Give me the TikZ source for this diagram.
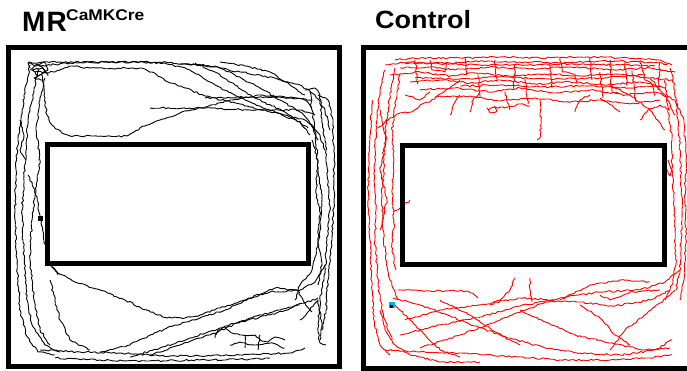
\documentclass[tikz,border=0pt]{standalone}
\usepackage{fontspec}
\setmainfont{Liberation Sans}
\usetikzlibrary{decorations.pathmorphing}
\definecolor{trackred}{RGB}{255,0,0}
\tikzset{
  frame/.style={draw=black, line width=5pt},
  arena/.style={draw=black, line width=5pt},
  trk/.style={decorate, decoration={random steps, segment length=2.6pt, amplitude=0.9pt},
              line width=0.9pt, line join=round},
  mrk/.style={trk, draw=black},
  ctl/.style={trk, draw=trackred},
}
\begin{document}
\begin{tikzpicture}[x=1pt,y=-1pt]
\pgfmathsetseed{11}
\useasboundingbox (0,0) rectangle (687,371);
% titles
\node[anchor=base west, inner sep=0] (t1) at (22,32)
  {\fontsize{28}{30}\selectfont\bfseries M\kern1pt R};
\node[anchor=base west, inner sep=0, xscale=1.12] (t1s) at (66,21)
  {\fontsize{15.5}{17}\selectfont\bfseries CaMKCre};
\node[anchor=base west, inner sep=0, xscale=1.08] (t2) at (375,29)
  {\fontsize{25}{27}\selectfont\bfseries Control};

% ================= left panel (black tracks) =================
\draw[mrk] (30,68) -- (28,63) -- (60,62) -- (110,62) -- (166,62) -- (185,64) -- (215,66) -- (235,75) -- (260,88) -- (280,100) -- (300,112) -- (312,125) -- (318,140);
\draw[mrk] (40,66) -- (70,63) -- (120,62) -- (165,63) -- (190,70) -- (215,85) -- (245,100) -- (275,112) -- (300,122) -- (310,135);
\draw[mrk] (35,72) -- (55,72) -- (70,66) -- (90,68) -- (140,68) -- (152,72) -- (168,82) -- (185,88) -- (205,96) -- (240,104) -- (270,112) -- (305,120) -- (320,135) -- (325,150);
\draw[mrk] (42,75) -- (44,95) -- (47,115) -- (52,125) -- (62,133) -- (70,136) -- (127,136) -- (140,128) -- (160,120) -- (180,113) -- (205,107) -- (230,100) -- (260,95) -- (290,97) -- (305,100) -- (312,108);
\draw[mrk] (180,64) -- (200,65) -- (220,68) -- (240,72) -- (260,75) -- (280,80) -- (300,85) -- (315,95) -- (325,110) -- (330,130);
\draw[mrk] (205,98) -- (250,97) -- (290,98) -- (312,100);
\draw[mrk] (150,108) -- (200,108) -- (250,110) -- (300,110) -- (315,115);
\draw[mrk] (220,62) -- (245,66) -- (270,72) -- (290,85) -- (305,95);
\draw[mrk] (195,63) -- (215,72) -- (235,85) -- (255,98) -- (285,112) -- (308,128);
\draw[mrk] (28,62) -- (36,66) -- (44,62) -- (48,70) -- (38,76) -- (32,70) -- (42,68) -- (48,76);
\draw[mrk] (30,70) -- (38,64) -- (46,72) -- (34,78) -- (44,80);
% right side
\draw[mrk] (305,90) -- (315,88) -- (320,95) -- (322,120) -- (326,150) -- (328,180) -- (330,210) -- (327,240) -- (325,270) -- (320,300) -- (318,330) -- (320,343) -- (326,345);
\draw[mrk] (310,92) -- (312,110) -- (316,140) -- (318,170) -- (322,200) -- (320,230) -- (316,255) -- (312,270) -- (300,285) -- (295,300);
\draw[mrk] (318,95) -- (328,100) -- (333,120) -- (334,160) -- (334,200) -- (332,240) -- (328,280) -- (326,310) -- (322,330);
\draw[mrk] (312,140) -- (318,160) -- (316,190) -- (320,215) -- (318,240) -- (322,262) -- (318,285);
% left side
\draw[mrk] (30,65) -- (26,85) -- (22,110) -- (18,140) -- (16,170) -- (15,210) -- (16,250) -- (18,280) -- (20,310) -- (26,335) -- (38,352) -- (55,355);
\draw[mrk] (38,68) -- (34,90) -- (28,120) -- (26,150) -- (24,180) -- (22,210) -- (23,240) -- (25,270) -- (27,300) -- (32,325) -- (45,345) -- (60,352);
\draw[mrk] (45,78) -- (40,100) -- (36,130) -- (40,160) -- (36,190) -- (32,220) -- (30,260) -- (34,300) -- (40,330) -- (50,345);
\draw[mrk] (28,175) -- (35,190) -- (40,215) -- (44,240) -- (50,262) -- (58,275);
\draw[mrk] (50,280) -- (55,300) -- (60,320) -- (70,340) -- (90,350);
\draw[mrk] (20,120) -- (24,135) -- (20,150) -- (26,160);
% bottom
\draw[mrk] (50,265) -- (58,273) -- (75,282) -- (100,290) -- (125,300) -- (150,312) -- (167,318) -- (185,318) -- (200,315) -- (220,308) -- (245,300) -- (275,288) -- (297,290) -- (305,303) -- (312,312);
\draw[mrk] (100,352) -- (130,345) -- (150,335) -- (175,325) -- (200,318) -- (225,310) -- (250,298) -- (270,292) -- (300,290) -- (315,282) -- (325,265);
\draw[mrk] (130,357) -- (160,348) -- (190,338) -- (220,328) -- (250,318) -- (280,310) -- (305,303) -- (318,298);
\draw[mrk] (150,355) -- (180,345) -- (210,335) -- (240,322) -- (270,315) -- (300,305);
\draw[mrk] (40,350) -- (80,352) -- (120,353) -- (160,356) -- (200,356) -- (240,355) -- (290,353) -- (305,348);
\draw[mrk] (55,358) -- (100,360) -- (150,361) -- (200,360) -- (250,359) -- (270,358);
\draw[mrk] (215,338) -- (218,330) -- (225,327) -- (232,333) -- (240,335) -- (255,335) -- (260,340) -- (268,342) -- (275,337) -- (285,340);
\draw[mrk] (230,345) -- (240,342) -- (255,345) -- (270,343) -- (285,348);
\draw[mrk] (245,335) -- (245,348);
\draw[mrk] (260,335) -- (258,350);
\draw[mrk] (300,320) -- (310,310) -- (318,300) -- (322,325) -- (320,340);
\fill[black] (38,216) rectangle (43,221);

% ================= right panel (red tracks) =================
% top band
\draw[ctl] (395,60) -- (420,58) -- (460,58) -- (500,57) -- (540,58) -- (580,57) -- (620,58) -- (660,60) -- (672,65);
\draw[ctl] (385,65) -- (410,62) -- (450,63) -- (480,61) -- (520,62) -- (560,63) -- (600,61) -- (640,62) -- (668,64);
\draw[ctl] (400,68) -- (430,67) -- (455,70) -- (490,67) -- (530,69) -- (570,67) -- (610,70) -- (650,68) -- (675,72);
\draw[ctl] (390,75) -- (420,72) -- (450,76) -- (475,73) -- (510,76) -- (545,74) -- (580,76) -- (615,74) -- (650,78) -- (672,80);
\draw[ctl] (410,82) -- (440,80) -- (470,83) -- (500,80) -- (535,84) -- (570,82) -- (605,85) -- (640,82) -- (665,88);
\draw[ctl] (420,90) -- (455,88) -- (490,92) -- (520,88) -- (555,93) -- (590,90) -- (625,95) -- (655,92) -- (675,100);
\draw[ctl] (435,97) -- (470,96) -- (500,101) -- (535,98) -- (565,102) -- (600,100) -- (630,104) -- (660,100);
\draw[ctl] (405,63) -- (440,64) -- (480,65) -- (525,65) -- (570,64) -- (615,65) -- (655,66);
\draw[ctl] (415,78) -- (460,79) -- (500,77) -- (550,79) -- (600,78) -- (645,75);
\draw[ctl] (460,86) -- (500,85) -- (540,87) -- (585,86) -- (630,88) -- (660,86);
\draw[ctl] (540,100) -- (541,120) -- (540,138) -- (537,140);
\draw[ctl] (488,110) -- (495,107) -- (505,108) -- (520,104) -- (530,106);
\draw[ctl] (487,108) -- (490,113) -- (497,111) -- (494,106);
\draw[ctl] (470,112) -- (473,100) -- (480,92);
\draw[ctl] (450,115) -- (455,102) -- (460,95);
\draw[ctl] (378,128) -- (390,118) -- (400,113) -- (412,112) -- (420,105) -- (430,102) -- (440,94) -- (450,88) -- (460,80);
\draw[ctl] (575,112) -- (580,100) -- (590,95);
\draw[ctl] (620,112) -- (612,105) -- (600,98);
\draw[ctl] (640,120) -- (648,110) -- (660,105) -- (670,110);
\draw[ctl] (610,85) -- (630,95) -- (650,110) -- (665,130);
\draw[ctl] (650,78) -- (665,95) -- (675,115);
\draw[ctl] (430,60) -- (432,70) -- (445,72) -- (447,62);
\draw[ctl] (560,58) -- (562,72) -- (575,74) -- (577,84);
\draw[ctl] (610,60) -- (612,92) -- (620,94);
\draw[ctl] (640,60) -- (645,80) -- (652,84) -- (655,96);
\draw[ctl] (465,58) -- (466,75); \draw[ctl] (495,60) -- (497,82); \draw[ctl] (515,64) -- (514,90);
\draw[ctl] (590,58) -- (592,80); \draw[ctl] (625,62) -- (627,86); \draw[ctl] (660,62) -- (658,90);
\draw[ctl] (415,60) -- (418,84); \draw[ctl] (478,74) -- (480,98); \draw[ctl] (550,62) -- (552,88);
\draw[ctl] (600,72) -- (603,98); \draw[ctl] (632,70) -- (636,102); \draw[ctl] (525,78) -- (528,104);
\draw[ctl] (405,95) -- (420,100) -- (430,92); \draw[ctl] (505,92) -- (510,110);
% left side
\draw[ctl] (385,70) -- (380,90) -- (377,120) -- (375,150) -- (374,180) -- (376,210) -- (375,240) -- (377,270) -- (380,300) -- (385,320) -- (392,340);
\draw[ctl] (395,68) -- (390,95) -- (386,125) -- (384,160) -- (382,195) -- (383,230) -- (386,260) -- (390,280) -- (398,300);
\draw[ctl] (400,75) -- (396,100) -- (392,130) -- (394,160) -- (392,190) -- (394,220) -- (392,250) -- (396,270);
\draw[ctl] (372,100) -- (370,140) -- (368,190) -- (370,240) -- (372,290) -- (374,320) -- (380,345) -- (390,355);
\draw[ctl] (380,110) -- (386,140) -- (380,170) -- (387,200) -- (380,230);
\draw[ctl] (393,212) -- (402,207) -- (410,200);
% right side
\draw[ctl] (670,68) -- (675,90) -- (678,120) -- (680,150) -- (681,180) -- (682,210) -- (681,240) -- (680,270) -- (676,290);
\draw[ctl] (665,80) -- (668,110) -- (672,140) -- (672,170) -- (674,200) -- (675,230) -- (676,265) -- (672,285) -- (665,300);
\draw[ctl] (675,100) -- (684,120) -- (686,160) -- (685,200) -- (686,240) -- (684,280) -- (680,300);
\draw[ctl] (668,160) -- (672,170) -- (670,176) -- (666,168);
% bottom
\draw[ctl] (398,290) -- (430,291) -- (468,291) -- (478,298);
\draw[ctl] (393,298) -- (420,305) -- (450,316) -- (480,328) -- (510,338) -- (545,348) -- (580,353) -- (620,355) -- (655,350) -- (672,340);
\draw[ctl] (400,335) -- (440,325) -- (480,317) -- (520,306) -- (545,301) -- (580,302) -- (615,306) -- (650,300) -- (670,290);
\draw[ctl] (420,348) -- (460,335) -- (500,320) -- (530,308) -- (560,298) -- (600,292) -- (640,290) -- (665,282) -- (680,270);
\draw[ctl] (405,320) -- (440,310) -- (480,305) -- (520,298) -- (555,300);
\draw[ctl] (530,278) -- (530,295) -- (532,302);
\draw[ctl] (515,278) -- (510,290) -- (500,300) -- (490,305);
\draw[ctl] (520,310) -- (545,322) -- (575,335) -- (610,343) -- (645,350) -- (670,348);
\draw[ctl] (385,350) -- (420,352) -- (470,354) -- (520,357) -- (560,360) -- (610,360) -- (650,358) -- (672,355);
\draw[ctl] (600,295) -- (610,300) -- (630,292) -- (660,290);
\draw[ctl] (610,350) -- (625,330) -- (645,315) -- (660,303) -- (675,290);
\draw[ctl] (395,305) -- (410,320) -- (425,335) -- (440,350) -- (460,357);
\draw[ctl] (380,310) -- (385,330) -- (395,345) -- (410,355) -- (440,362) -- (480,362);
\draw[ctl] (580,305) -- (600,318) -- (615,335) -- (630,345);
\draw[ctl] (440,300) -- (470,315) -- (500,335) -- (520,345);
\draw[ctl] (560,300) -- (590,285) -- (620,280) -- (650,282);
\fill[cyan] (389,302) rectangle (395,308);
\fill[black] (390,305) rectangle (393,308);

% ================= frames =================
\draw[frame] (8.5,47.5) rectangle (339,366);
\draw[arena] (47.5,144.5) rectangle (308,263.5);
\draw[frame] (363.5,47.5) rectangle (700,368);
\draw[arena] (402.5,146) rectangle (664.5,264.5);
\end{tikzpicture}
\end{document}
